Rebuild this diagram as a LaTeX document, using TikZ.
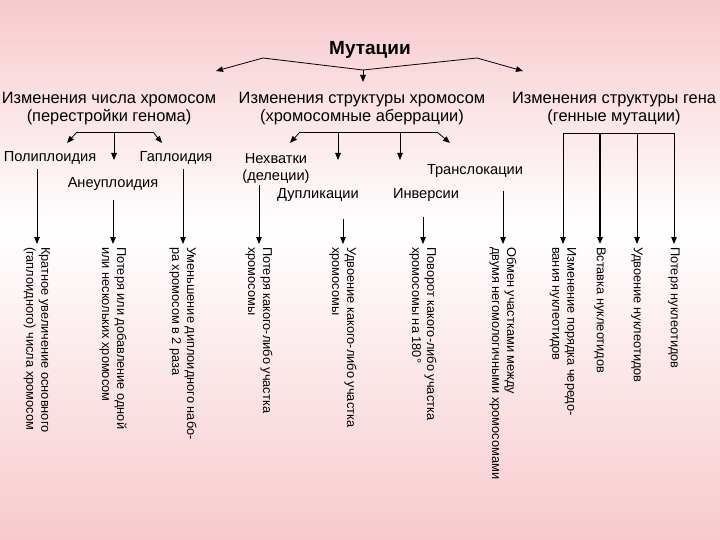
\documentclass[tikz,border=0pt]{standalone}
\usepackage{fontspec}
\setmainfont{Liberation Sans}
\usepackage{xcolor}
\usetikzlibrary{arrows.meta}

\definecolor{bgpink}{RGB}{247,202,205}

\begin{document}
\begin{tikzpicture}[x=1pt, y=-1pt,
  head/.style={font=\fontsize{19}{19}\selectfont\bfseries},
  group/.style={font=\fontsize{16.4}{18}\selectfont, align=center},
  kind/.style={font=\fontsize{14.6}{17}\selectfont, align=center, inner sep=1pt},
  note/.style={font=\fontsize{12.8}{15}\selectfont, align=left, rotate=-90,
    anchor=west, inner sep=3pt},
  arrow/.style={-{Triangle[length=7pt,width=5.5pt]}, line width=0.8pt},
  link/.style={line width=0.8pt},
]

\useasboundingbox (0,0) rectangle (720,540);
\fill[top color=bgpink, bottom color=white] (0,0) rectangle (720,230);
\fill[top color=white, bottom color=bgpink] (0,229.5) rectangle (720,540);

\node[head] (mut) at (370,50) {Мутации};

\node[group] (numch) at (109,109) {Изменения числа хромосом\\(перестройки генома)};
\node[group] (strch) at (362,109) {Изменения структуры хромосом\\(хромосомные аберрации)};
\node[group] (strgen) at (614,109) {Изменения структуры гена\\(генные мутации)};

\coordinate (tl) at (263,58);
\coordinate (tm) at (363,70);
\coordinate (tr) at (477,58);
\coordinate (ta) at (216,71);
\coordinate (tb) at (363,82);
\coordinate (tc) at (523,71);
\draw[link] (tl) -- (tm) -- (tr);
\draw[arrow] (tl) -- (ta);
\draw[arrow] (tm) -- (tb);
\draw[arrow] (tr) -- (tc);

\node[kind] (poly) at (50,158) {Полиплоидия};
\node[kind] (aneu) at (113,184) {Анеуплоидия};
\node[kind] (haplo) at (176,158) {Гаплоидия};

\coordinate (la) at (77,132);
\coordinate (lb) at (153,132);
\coordinate (lm) at (114,132);
\coordinate (lc) at (67,143);
\coordinate (ld) at (114,160);
\coordinate (le) at (162,143);
\draw[link] (la) -- (lb);
\draw[arrow] (la) -- (lc);
\draw[arrow] (lm) -- (ld);
\draw[arrow] (lb) -- (le);

\node[kind] (delet) at (276,168) {Нехватки\\(делеции)};
\node[kind] (dupl) at (318,195) {Дупликации};
\node[kind] (inver) at (426,195) {Инверсии};
\node[kind] (transl) at (475,171) {Транслокации};

\coordinate (ma) at (300,132);
\coordinate (mb) at (437,132);
\coordinate (mc) at (338,132);
\coordinate (md) at (400,132);
\coordinate (me) at (290,143);
\coordinate (mf) at (338,160);
\coordinate (mg) at (400,160);
\coordinate (mh) at (450,143);
\draw[link] (ma) -- (mb);
\draw[arrow] (ma) -- (me);
\draw[arrow] (mc) -- (mf);
\draw[arrow] (md) -- (mg);
\draw[arrow] (mb) -- (mh);

\node[note] (n1) at (37,244) {Кратное увеличение основного\\(гаплоидного) числа хромосом};
\node[note] (n2) at (113,244) {Потеря или добавление одной\\или нескольких хромосом};
\node[note] (n3) at (183,244) {Уменьшение диплоидного набо-\\ра хромосом в 2 раза};
\node[note] (n4) at (259,244) {Потеря какого-либо участка\\хромосомы};
\node[note] (n5) at (343,244) {Удвоение какого-либо участка\\хромосомы};
\node[note] (n6) at (423,244) {Поворот какого-либо участка\\хромосомы на 180°};
\node[note] (n7) at (503,244) {Обмен участками между\\двумя негомологичными хромосомами};
\node[note] (n8) at (563,244) {Изменение порядка чередо-\\вания нуклеотидов};
\node[note] (n9) at (600,244) {Вставка нуклеотидов};
\node[note] (n10) at (637,244) {Удвоение нуклеотидов};
\node[note] (n11) at (674,244) {Потеря нуклеотидов};

\draw[arrow] (n1.west |- poly.south) ++(0,3) -- (n1.west);
\draw[arrow] (n2.west |- aneu.south) ++(0,8) -- (n2.west);
\draw[arrow] (n3.west |- haplo.south) ++(0,3) -- (n3.west);
\draw[arrow] (n4.west |- delet.south) ++(0,1) -- (n4.west);
\draw[arrow] (n5.west |- dupl.south) ++(0,16) -- (n5.west);
\draw[arrow] (n6.west |- inver.south) ++(0,14) -- (n6.west);
\draw[arrow] (n7.west |- transl.south) ++(0,12) -- (n7.west);

\coordinate (ga) at (563,133);
\coordinate (gb) at (600,133);
\coordinate (gc) at (637,133);
\coordinate (gd) at (674,133);
\draw[link] (ga) -- (gd);
\draw[arrow] (ga) -- (n8.west);
\draw[arrow, line width=1.8pt] (gb) -- (n9.west);
\draw[arrow] (gc) -- (n10.west);
\draw[arrow] (gd) -- (n11.west);

\end{tikzpicture}
\end{document}
